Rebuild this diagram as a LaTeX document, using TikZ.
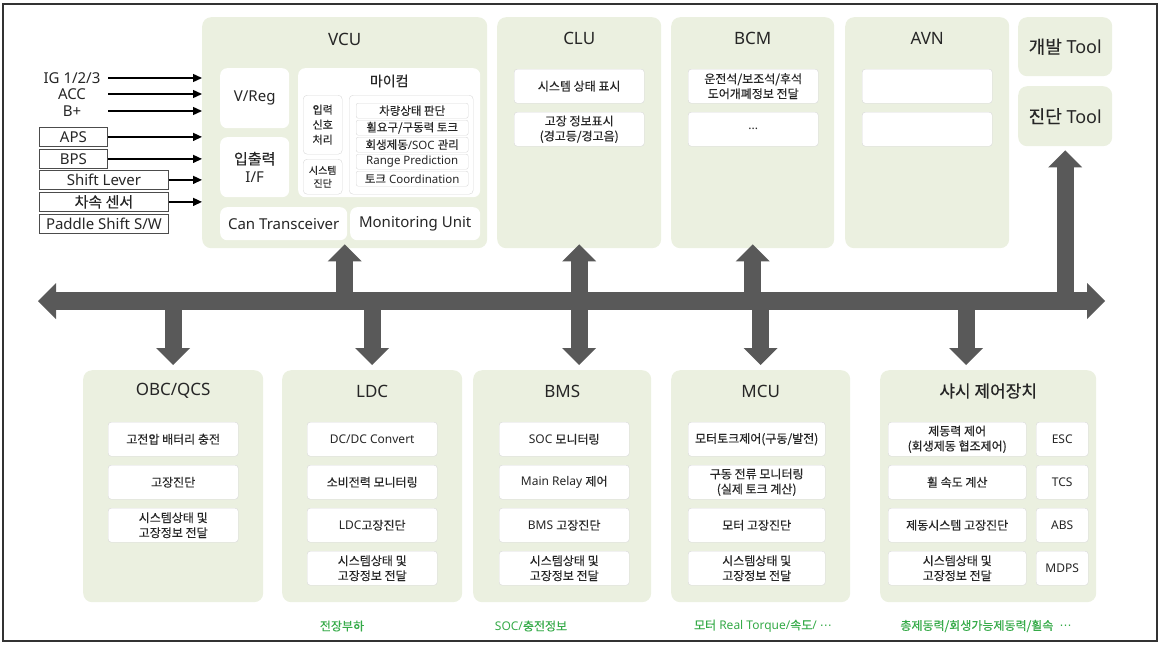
\documentclass[tikz,border=0pt]{standalone}
\usepackage{fontspec}
\setmainfont{Noto Sans}
\newfontfamily\kr[FakeBold=0.35]{Noto Sans CJK KR}
\newfontfamily\dotfont{DejaVu Sans}
\usetikzlibrary{arrows.meta}
\definecolor{unitfill}{HTML}{EBF0E0}
\definecolor{cellline}{HTML}{D9D9D9}
\definecolor{busgray}{HTML}{595959}
\definecolor{inkgray}{HTML}{262626}
\definecolor{flowgreen}{HTML}{35AA48}
\begin{document}
\begin{tikzpicture}[x=1pt,y=-1pt,
  every node/.style={text=inkgray},
  unit/.style={fill=unitfill, rounded corners=9pt, anchor=north west, inner sep=0pt},
  title/.style={font=\fontsize{17}{20}\selectfont},
  panel/.style={fill=white, rounded corners=7pt, anchor=north west, inner sep=0pt, align=center},
  cell/.style={draw=cellline, fill=white, rounded corners=3pt, anchor=north west, inner sep=0pt,
    align=center, minimum width=130pt, minimum height=34pt, font=\fontsize{12}{15}\selectfont},
  item/.style={draw=cellline, fill=white, rounded corners=2pt, anchor=north west, inner sep=0pt,
    minimum width=112pt, minimum height=15pt, font=\fontsize{11.5}{13}\selectfont},
  feedtext/.style={minimum width=72pt, inner sep=0pt, font=\fontsize{15}{18}\selectfont},
  feedbox/.style={draw=black!70, line width=0.8pt, anchor=north west, inner sep=0pt,
    minimum height=19pt, font=\fontsize{15}{18}\selectfont},
  feed/.style={line width=1.4pt, -{Triangle[length=9pt,width=8pt]}},
  bus/.style={draw=busgray, line width=18pt,
    {Triangle[length=18pt,width=36pt,line width=0pt]}-{Triangle[length=18pt,width=36pt,line width=0pt]}},
  stub/.style={draw=busgray, line width=17pt, -{Triangle[length=17pt,width=34pt,line width=0pt]}},
  stubboth/.style={draw=busgray, line width=17pt,
    {Triangle[length=17pt,width=34pt,line width=0pt]}-{Triangle[length=17pt,width=34pt,line width=0pt]}},
  flow/.style={text=flowgreen, font=\fontsize{12}{14}\selectfont}]
\useasboundingbox (0,0) rectangle (1162,646);
\draw[line width=1.2pt, black!80] (3,4) rectangle (1157,641);

% upper units
\node[unit, minimum width=285pt, minimum height=231pt] (vcu) at (202,17) {};
\node[unit, minimum width=164pt, minimum height=231pt] (clu) at (497,17) {};
\node[unit, minimum width=163pt, minimum height=231pt] (bcm) at (671,17) {};
\node[unit, minimum width=164pt, minimum height=231pt] (avn) at (845,17) {};
\node[unit, minimum width=94pt, minimum height=59pt, font=\fontsize{18}{21}\selectfont] (devtool) at (1018,17) {{\kr 개발} Tool};
\node[unit, minimum width=94pt, minimum height=60pt, font=\fontsize{18}{21}\selectfont] (diagtool) at (1018,86) {{\kr 진단} Tool};
\node[title] (vcu-t) at ([yshift=-22pt]vcu.north) {VCU};
\node[title] (clu-t) at ([yshift=-21pt]clu.north) {CLU};
\node[title] (bcm-t) at ([yshift=-21pt]bcm.north) {BCM};
\node[title] (avn-t) at ([yshift=-21pt]avn.north) {AVN};

% VCU inside
\node[panel, minimum width=69pt, minimum height=60pt, font=\fontsize{15}{18}\selectfont] (vreg) at (220,68) {V/Reg};
\node[panel, minimum width=69pt, minimum height=60pt, font=\fontsize{15}{18}\selectfont] (io) at (220,137) {{\kr 입출력}\\I/F};
\node[panel, minimum width=182pt, minimum height=129pt] (micom) at (298,68) {};
\node[font=\kr\fontsize{14}{16}\selectfont] (micom-t) at ([yshift=-13pt]micom.north) {마이컴};
\node[panel, draw=cellline, rounded corners=4pt, minimum width=39pt, minimum height=59pt,
  font=\kr\fontsize{11}{15}\selectfont] (sigproc) at (303,95) {입력\\신호\\처리};
\node[panel, draw=cellline, rounded corners=4pt, minimum width=39pt, minimum height=35pt,
  font=\kr\fontsize{10}{13}\selectfont] (sysdiag) at (303,159) {시스템\\진단};
\node[panel, draw=cellline, rounded corners=4pt, minimum width=124pt, minimum height=99pt] (logic) at (349,95) {};
\node[item] (judge) at (356,103) {\kr 차량상태 판단};
\node[item] (wheel) at (356,120) {\kr 휠요구/구동력 토크};
\node[item] (regen) at (356,137) {{\kr 회생제동}/SOC {\kr 관리}};
\node[item] (range) at (356,154) {Range Prediction};
\node[item] (coord) at (356,171) {{\kr 토크} Coordination};
\node[panel, minimum width=127pt, minimum height=33pt, font=\fontsize{15}{18}\selectfont] (can) at (220,207) {Can Transceiver};
\node[panel, minimum width=130pt, minimum height=33pt, font=\fontsize{15}{18}\selectfont] (monitor) at (350,207) {Monitoring Unit};

% VCU inputs
\node[feedtext] (ig) at (72,78) {IG 1/2/3};
\node[feedtext] (acc) at (72,94) {ACC};
\node[feedtext] (bplus) at (72,111) {B+};
\node[feedbox, minimum width=68pt] (aps) at (39,127) {APS};
\node[feedbox, minimum width=68pt] (bps) at (39,149) {BPS};
\node[feedbox, minimum width=129pt] (shift) at (39,170) {Shift Lever};
\node[feedbox, minimum width=129pt] (speed) at (39,192) {\kr 차속 센서};
\node[feedbox, minimum width=129pt] (paddle) at (39,214) {Paddle Shift S/W};
\foreach \src in {ig,acc,bplus,aps,bps,shift,speed}
  \draw[feed] (\src.east) -- (\src.east -| vcu.west);

% CLU / BCM / AVN cells
\node[cell, font=\kr\fontsize{12}{15}\selectfont] (clu-a) at (514,69) {시스템 상태 표시};
\node[cell, font=\kr\fontsize{12}{15}\selectfont] (clu-b) at (514,112) {고장 정보표시\\(경고등/경고음)};
\node[cell, font=\kr\fontsize{12}{15}\selectfont] (bcm-a) at (688,69) {운전석/보조석/후석\\도어개폐정보 전달};
\node[cell] (bcm-b) at (688,112) {...};
\node[cell] (avn-a) at (862,69) {};
\node[cell] (avn-b) at (862,112) {};

% lower units
\node[unit, minimum width=180pt, minimum height=232pt] (obc) at (83,370) {};
\node[unit, minimum width=180pt, minimum height=232pt] (ldc) at (282,370) {};
\node[unit, minimum width=178pt, minimum height=232pt] (bms) at (473,370) {};
\node[unit, minimum width=179pt, minimum height=232pt] (mcu) at (671,370) {};
\node[unit, minimum width=216pt, minimum height=232pt] (chassis) at (880,370) {};
\node[title] (obc-t) at ([yshift=-21pt]obc.north) {OBC/QCS};
\node[title] (ldc-t) at ([yshift=-21pt]ldc.north) {LDC};
\node[title] (bms-t) at ([yshift=-21pt]bms.north) {BMS};
\node[title] (mcu-t) at ([yshift=-21pt]mcu.north) {MCU};
\node[title, font=\kr\fontsize{17}{20}\selectfont] (chassis-t) at ([yshift=-21pt]chassis.north) {샤시 제어장치};

\node[cell, font=\kr\fontsize{12}{15}\selectfont] (obc-a) at (108,422) {고전압 배터리 충전};
\node[cell, font=\kr\fontsize{12}{15}\selectfont] (obc-b) at (108,465) {고장진단};
\node[cell, font=\kr\fontsize{12}{15}\selectfont] (obc-c) at (108,508) {시스템상태 및\\고장정보 전달};

\node[cell] (ldc-a) at (307,422) {DC/DC Convert};
\node[cell, font=\kr\fontsize{12}{15}\selectfont] (ldc-b) at (307,465) {소비전력 모니터링};
\node[cell] (ldc-c) at (307,508) {LDC{\kr 고장진단}};
\node[cell, font=\kr\fontsize{12}{15}\selectfont] (ldc-d) at (307,551) {시스템상태 및\\고장정보 전달};

\node[cell] (bms-a) at (499,422) {SOC {\kr 모니터링}};
\node[cell] (bms-b) at (499,465) {Main Relay {\kr 제어}};
\node[cell] (bms-c) at (499,508) {BMS {\kr 고장진단}};
\node[cell, font=\kr\fontsize{12}{15}\selectfont] (bms-d) at (499,551) {시스템상태 및\\고장정보 전달};

\node[cell, minimum width=137pt, font=\kr\fontsize{12}{15}\selectfont] (mcu-a) at (688,422) {모터토크제어(구동/발전)};
\node[cell, minimum width=137pt, font=\kr\fontsize{12}{15}\selectfont] (mcu-b) at (688,465) {구동 전류 모니터링\\(실제 토크 계산)};
\node[cell, minimum width=137pt, font=\kr\fontsize{12}{15}\selectfont] (mcu-c) at (688,508) {모터 고장진단};
\node[cell, minimum width=137pt, font=\kr\fontsize{12}{15}\selectfont] (mcu-d) at (688,551) {시스템상태 및\\고장정보 전달};

\node[cell, minimum width=138pt, font=\kr\fontsize{12}{15}\selectfont] (brake) at (888,422) {제동력 제어\\(회생제동 협조제어)};
\node[cell, minimum width=138pt, font=\kr\fontsize{12}{15}\selectfont] (wspeed) at (888,465) {휠 속도 계산};
\node[cell, minimum width=138pt, font=\kr\fontsize{12}{15}\selectfont] (bdiag) at (888,508) {제동시스템 고장진단};
\node[cell, minimum width=138pt, font=\kr\fontsize{12}{15}\selectfont] (binfo) at (888,551) {시스템상태 및\\고장정보 전달};
\node[cell, minimum width=52pt] (esc) at (1036,422) {ESC};
\node[cell, minimum width=52pt] (tcs) at (1036,465) {TCS};
\node[cell, minimum width=52pt] (abs) at (1036,508) {ABS};
\node[cell, minimum width=52pt] (mdps) at (1036,551) {MDPS};

% signals on the bus
\node[flow] (load) at (342,626) {\kr 전장부하};
\node[flow] (charge) at (531,626) {SOC/{\kr 충전정보}};
\node[flow] (torque) at (763,626) {{\kr 모터} Real Torque/{\kr 속도}/ {\dotfont ⋯}};
\node[flow] (braking) at (986,626) {{\kr 총제동력/회생가능제동력/휠속}\ \ {\dotfont ⋯}};

% CAN bus
\coordinate (busw) at (38,301);
\coordinate (buse) at (1105,301);
\draw[bus] (busw) -- (buse);
\draw[stub] (vcu.south |- busw) -- ([yshift=4pt]vcu.south);
\draw[stub] (obc.north |- busw) -- ([yshift=5pt]obc.north);
\draw[stub] (ldc.north |- busw) -- ([yshift=5pt]ldc.north);
\draw[stubboth] ([yshift=4pt]clu.south) -- ([yshift=5pt]clu.south |- bms.north);
\draw[stub] (bcm.south |- busw) -- ([yshift=4pt]bcm.south);
\draw[stub] (mcu.north |- busw) -- ([yshift=5pt]mcu.north);
\draw[stub] (966,301) -- ([yshift=5pt]chassis.north -| 966,0);
\draw[stub] (diagtool.south |- busw) -- ([yshift=-4pt]diagtool.south);
\end{tikzpicture}
\end{document}
